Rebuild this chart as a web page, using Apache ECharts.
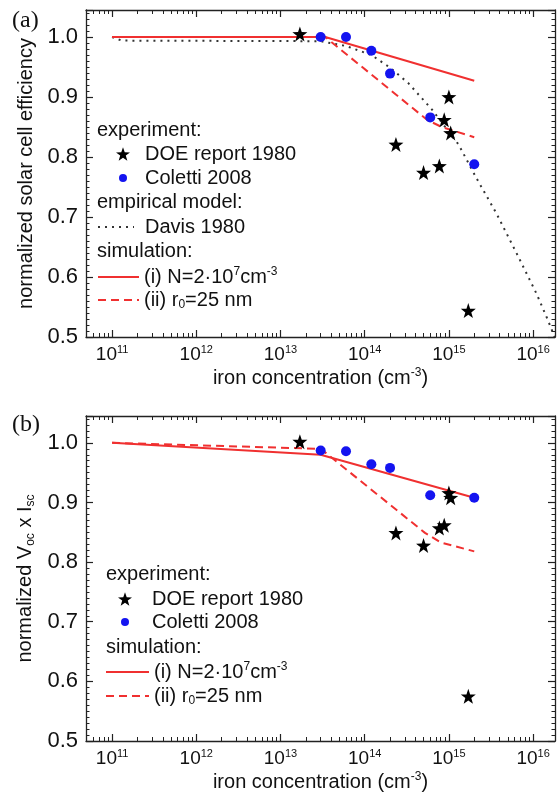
<!DOCTYPE html>
<html><head><meta charset="utf-8">
<script src="https://cdn.jsdelivr.net/npm/echarts@6/dist/echarts.min.js"></script>
<style>html,body{margin:0;padding:0;background:#fff}#c{width:558px;height:793px}</style>
</head><body><div id="c"></div>
<script>
// ---------- data ----------
const decadeExponents = [11, 12, 13, 14, 15, 16];
const yTickValues = [0.5, 0.6, 0.7, 0.8, 0.9, 1.0];

// DOE report 1980 (stars)
const doeConc   = [1.7e13, 2.35e14, 5.0e14, 7.7e14, 8.8e14, 1.0e15, 1.05e15, 1.7e15];
const doeEffA   = [1.005, 0.821, 0.774, 0.785, 0.862, 0.900, 0.840, 0.544];
const doeVIB    = [1.002, 0.849, 0.828, 0.857, 0.862, 0.916, 0.908, 0.575];

// Coletti 2008 (blue dots)
const colConc   = [3e13, 6e13, 1.2e14, 2e14, 6e14, 2e15];
const colEffA   = [1.0, 1.0, 0.977, 0.939, 0.866, 0.788];
const colVIB    = [0.987, 0.986, 0.964, 0.958, 0.912, 0.908];

// Davis 1980 empirical model (panel a)
const davisConc = [1e11, 1.3e11, 3e13, 6e13, 1.2e14, 2e14, 3.3e14, 6.3e14, 1.3e15, 2.1e15, 3.7e15, 6.4e15, 1.1e16, 1.5e16, 1.8e16];
const davisEff  = [1.0, 0.994, 0.993, 0.985, 0.970, 0.949, 0.923, 0.879, 0.821, 0.766, 0.705, 0.639, 0.572, 0.528, 0.50];

// simulation (i) N=2e7 cm^-3
const simIConcA = [1e11, 3.4e13, 2e15];
const simIEffA  = [1.0, 1.0, 0.927];
const simIConcB = [1e11, 3e13, 2e15];
const simIVIB   = [1.0, 0.98, 0.908];

// simulation (ii) r0 = 25 nm
const simIIConcA = [1e11, 3.4e13, 5.5e14, 8.2e14, 2e15];
const simIIEffA  = [1.0, 1.0, 0.862, 0.850, 0.833];
const simIIConcB = [1e11, 3e13, 5.2e14, 8e14, 2e15];
const simIIVIB   = [1.0, 0.99, 0.849, 0.833, 0.818];

// ---------- helpers ----------
const F = '"Liberation Sans", Arial, sans-serif';
const TXT = '#111';
const zip = (a, b) => a.map((v, i) => [v, b[i]]);
const STAR = 'path://M0,-10 L2.35,-3.24 L9.51,-3.09 L3.8,1.24 L5.88,8.09 L0,4 L-5.88,8.09 L-3.8,1.24 L-9.51,-3.09 L-2.35,-3.24 Z';
const RED = '#f03030', BLUE = '#1414f0';
const X_MIN = 4.9e10, X_MAX = 1.82e16;

const richBase = {
  n: {fontSize: 20, fontFamily: F, color: TXT, lineHeight: 22},
  sup: {fontSize: 12, fontFamily: F, color: TXT, lineHeight: 12, verticalAlign: 'top'},
  sub: {fontSize: 12, fontFamily: F, color: TXT, lineHeight: 12, verticalAlign: 'bottom'}
};
const richX = {
  n: {fontSize: 19, fontFamily: F, color: TXT, lineHeight: 22},
  sup: {fontSize: 11, fontFamily: F, color: TXT, lineHeight: 11, verticalAlign: 'top'}
};

const majorVals = decadeExponents.map(e => Math.pow(10, e));
const minorVals = [];
for (let e = 10; e <= 16; e++) for (let m = 2; m <= 9; m++) minorVals.push(m * Math.pow(10, e));

function xAxes(gridIndex) {
  const common = {type: 'log', logBase: 10, gridIndex, min: X_MIN, max: X_MAX, splitLine: {show: false}};
  return [
    Object.assign({}, common, {
      position: 'bottom',
      axisLine: {lineStyle: {color: '#222', width: 1.3}},
      axisTick: {inside: true, length: 7, customValues: majorVals, lineStyle: {color: '#222', width: 1.2}},
      axisLabel: {customValues: majorVals, margin: 7,
        formatter: v => '{n|10}{sup|' + Math.round(Math.log10(v)) + '}', rich: richX},
      name: '{n|iron concentration (cm}{sup|-3}{n|)}',
      nameLocation: 'middle', nameGap: 30,
      nameTextStyle: {rich: richBase}
    }),
    Object.assign({}, common, {
      position: 'bottom', axisLine: {show: false},
      axisTick: {inside: true, length: 4, customValues: minorVals, lineStyle: {color: '#222'}},
      axisLabel: {show: false}
    }),
    Object.assign({}, common, {
      position: 'top',
      axisLine: {lineStyle: {color: '#222', width: 1.3}},
      axisTick: {inside: true, length: 7, customValues: majorVals, lineStyle: {color: '#222', width: 1.2}},
      axisLabel: {show: false}
    }),
    Object.assign({}, common, {
      position: 'top', axisLine: {show: false},
      axisTick: {inside: true, length: 4, customValues: minorVals, lineStyle: {color: '#222'}},
      axisLabel: {show: false}
    })
  ];
}

function yAxes(gridIndex, name, max) {
  const common = {type: 'value', gridIndex, min: 0.5, max: max, interval: 0.1, splitLine: {show: false},
    axisLine: {show: true, lineStyle: {color: '#222', width: 1.3}},
    axisTick: {inside: true, length: 7, lineStyle: {color: '#222', width: 1.2}},
    minorTick: {show: true, splitNumber: 10, length: 3.5, lineStyle: {color: '#222'}}};
  return [
    Object.assign({}, common, {
      position: 'left',
      axisLabel: {customValues: yTickValues, formatter: v => v.toFixed(1), fontSize: 22, fontFamily: F, color: TXT, margin: 8},
      name: name, nameLocation: 'middle', nameRotate: 90, nameGap: 46,
      nameTextStyle: {rich: richBase}
    }),
    Object.assign({}, common, {position: 'right', axisLabel: {show: false}})
  ];
}

function panelSeries(xi, yi, doe, col, simIc, simIv, simIIc, simIIv, davis) {
  const s = [];
  if (davis) s.push({name: 'Davis 1980', type: 'line', xAxisIndex: xi, yAxisIndex: yi, symbol: 'none', z: 2,
    itemStyle: {color: '#333', opacity: 0},
    lineStyle: {color: '#333', width: 2, type: [2, 5]}, data: zip(davisConc, davisEff)});
  s.push({name: '(ii)', type: 'line', xAxisIndex: xi, yAxisIndex: yi, symbol: 'none', z: 3,
    itemStyle: {color: RED, opacity: 0},
    lineStyle: {color: RED, width: 2, type: [8, 5]}, data: zip(simIIc, simIIv)});
  s.push({name: '(i)', type: 'line', xAxisIndex: xi, yAxisIndex: yi, symbol: 'none', z: 3,
    itemStyle: {color: RED, opacity: 0},
    lineStyle: {color: RED, width: 2}, data: zip(simIc, simIv)});
  s.push({name: 'DOE report 1980', type: 'scatter', xAxisIndex: xi, yAxisIndex: yi, symbol: STAR, symbolSize: 15, z: 4,
    itemStyle: {color: '#000', opacity: 1}, data: zip(doeConc, doe)});
  s.push({name: 'Coletti 2008', type: 'scatter', xAxisIndex: xi, yAxisIndex: yi, symbol: 'circle', symbolSize: 10, z: 5,
    itemStyle: {color: BLUE, opacity: 1}, data: zip(colConc, col)});
  return s;
}

const legendLabels = {
  'DOE report 1980': '{n|DOE report 1980}',
  'Coletti 2008': '{n|Coletti 2008}',
  'Davis 1980': '{n|Davis 1980}',
  '(i)': '{n|(i) N=2·10}{sup|7}{n|cm}{sup|-3}',
  '(ii)': '{n|(ii) r}{sub|0}{n|=25 nm}'
};
function row(name, left, cy, w, h, pad, icon, isLine) {
  const r = {
    data: [icon ? {name, icon} : name], left, top: cy - 11, itemWidth: w, itemHeight: h, padding: 0,
    orient: 'vertical', selectedMode: false,
    formatter: nm => legendLabels[nm],
    textStyle: {padding: [0, 0, 0, pad], rich: richBase}
  };
  if (isLine) r.itemStyle = {opacity: 0};
  return r;
}
function header(text, left, cy) {
  return {type: 'text', left, top: cy - 11, style: {text, font: '20px ' + F, fill: TXT}};
}

const chart = echarts.init(document.getElementById('c'), null, {renderer: 'canvas'});
chart.setOption({
  animation: false,
  backgroundColor: '#fff',
  grid: [
    {left: 86, right: 3, top: 10, height: 327},
    {left: 86, right: 3, top: 416, height: 325}
  ],
  xAxis: xAxes(0).concat(xAxes(1)),
  yAxis: yAxes(0, '{n|normalized solar cell efficiency}', 1.045)
    .concat(yAxes(1, '{n|normalized V}{sub|oc}{n| x I}{sub|sc}', 1.045)),
  legend: [
    row('DOE report 1980', 116, 155, 14, 14, 10, STAR),
    row('Coletti 2008', 119, 179, 8, 8, 13, 'circle'),
    row('Davis 1980', 97, 228, 36, 14, 6, null, true),
    row('(i)', 97, 277, 41, 14, 0, null, true),
    row('(ii)', 97, 301, 41, 14, 0, null, true),
    row('DOE report 1980', 118, 600, 14, 14, 15, STAR),
    row('Coletti 2008', 121, 623, 8, 8, 18, 'circle'),
    row('(i)', 105, 672, 43, 14, 0, null, true),
    row('(ii)', 105, 697, 43, 14, 0, null, true)
  ],
  graphic: [
    {type: 'text', left: 12, top: 9, style: {text: '(a)', font: '24px "Liberation Serif", serif', fill: TXT}},
    {type: 'text', left: 12, top: 413, style: {text: '(b)', font: '24px "Liberation Serif", serif', fill: TXT}},
    header('experiment:', 97, 131),
    header('empirical model:', 97, 203),
    header('simulation:', 97, 252),
    header('experiment:', 106, 575),
    header('simulation:', 106, 648)
  ],
  series: panelSeries(0, 0, doeEffA, colEffA, simIConcA, simIEffA, simIIConcA, simIIEffA, true)
    .concat(panelSeries(4, 2, doeVIB, colVIB, simIConcB, simIVIB, simIIConcB, simIIVIB, false))
});
</script>
</body></html>
